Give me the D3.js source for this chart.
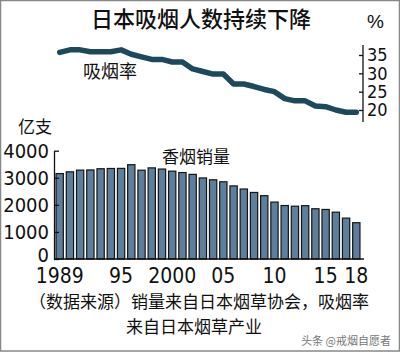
<!DOCTYPE html>
<html lang="zh">
<head>
<meta charset="UTF-8">
<title>日本吸烟人数持续下降</title>
<script src="https://d3js.org/d3.v7.min.js"></script>
<style>
    body { margin: 0; background: #fff; }
    svg { display: block; }
    .cjk { font-family: "Noto Sans CJK SC", sans-serif; fill: #111; }
    .num text { font-family: "Liberation Sans Narrow", "DejaVu Sans Condensed", sans-serif; fill: #111; }
</style>
</head>
<body>
<svg id="chart"></svg>
<script>
    // data
    const years = d3.range(1989, 2019);
    const sales = [3155, 3220, 3283, 3289, 3334, 3343, 3347, 3483, 3280, 3366,
                   3322, 3245, 3193, 3126, 2994, 2926, 2852, 2700, 2585, 2458,
                   2339, 2102, 1975, 1951, 1969, 1856, 1830, 1730, 1510, 1341];
    const smokingRate = [35.7, 36.4, 36.4, 35.9, 35.9, 35.9, 36.4, 35.2, 34.5, 33.8,
                         33.8, 33.1, 33.1, 31.2, 30.5, 29.8, 29.8, 27.1, 27.1, 26.4,
                         25.6, 25.0, 23.1, 22.5, 22.5, 21.1, 20.9, 20.0, 19.4, 19.4];
    const salesTicks = [0, 1000, 2000, 3000, 4000];
    const rateTicks = [20, 25, 30, 35];
    const yearTicks = [1989, 1995, 2000, 2005, 2010, 2015, 2018];

    const width = 400, height = 353;
    const svg = d3.select("#chart").attr("width", width).attr("height", height);

    // frame
    svg.append("rect")
        .attr("x", 0.5).attr("y", 0.5)
        .attr("width", width - 1).attr("height", height - 2.5)
        .attr("fill", "none").attr("stroke", "#888").attr("stroke-width", 1.5);

    const x = d3.scaleBand()
        .domain(years)
        .range([54, 362])
        .paddingInner(0.287)
        .paddingOuter(0.2);

    const yL = d3.scaleLinear().domain([0, 4000]).range([259, 150.7]);
    const yR = d3.scaleLinear().domain([20, 35]).range([110, 55]);

    // bars
    svg.append("g").selectAll("rect")
        .data(years)
        .join("rect")
        .attr("x", d => x(d))
        .attr("y", (d, i) => yL(sales[i]))
        .attr("width", x.bandwidth())
        .attr("height", (d, i) => yL(0) - yL(sales[i]))
        .attr("fill", "#5d7f9c")
        .attr("stroke", "#151515")
        .attr("stroke-width", 1.2);

    // left axis
    const leftAxis = svg.append("g")
        .attr("class", "num")
        .attr("transform", "translate(54,0)")
        .call(d3.axisLeft(yL).tickValues(salesTicks).tickFormat(d3.format("d"))
            .tickSize(-5).tickSizeOuter(0).tickPadding(5));
    leftAxis.selectAll("text").style("font-size", "20px");
    // the zero label sits on the baseline in the original
    leftAxis.selectAll("text").filter(d => d === 0).attr("dy", "0.1em");
    leftAxis.selectAll("line, path").attr("stroke", "#111").attr("stroke-width", 1.3);

    // baseline + bottom axis labels
    svg.append("line")
        .attr("x1", 54).attr("x2", 364)
        .attr("y1", yL(0)).attr("y2", yL(0))
        .attr("stroke", "#111").attr("stroke-width", 1.5);

    const bottomAxis = svg.append("g")
        .attr("class", "num")
        .attr("transform", `translate(0,${yL(0)})`)
        .call(d3.axisBottom(x).tickValues(yearTicks).tickSize(0).tickPadding(9)
            .tickFormat(d => (d === 1989 || d === 2000) ? String(d) : String(d).slice(2)));
    bottomAxis.select(".domain").remove();
    bottomAxis.selectAll("text").style("font-size", "21px");

    // right axis (smoking rate)
    const rightAxis = svg.append("g")
        .attr("class", "num")
        .attr("transform", "translate(363,0)")
        .call(d3.axisRight(yR).tickValues(rateTicks).tickSize(-4).tickSizeOuter(0).tickPadding(4));
    rightAxis.select(".domain").remove();
    rightAxis.append("line")
        .attr("y1", 45).attr("y2", 122)
        .attr("stroke", "#111").attr("stroke-width", 1.3);
    rightAxis.selectAll("text").style("font-size", "18px");
    rightAxis.selectAll(".tick line").attr("stroke", "#111").attr("stroke-width", 1.3);

    // smoking rate line
    const line = d3.line()
        .x((d, i) => x(years[i]) + x.bandwidth() / 2)
        .y(d => yR(d));
    svg.append("path")
        .datum(smokingRate)
        .attr("d", line)
        .attr("fill", "none")
        .attr("stroke", "#1c4a5c")
        .attr("stroke-width", 5.5)
        .attr("stroke-linejoin", "round")
        .attr("stroke-linecap", "round");

    // texts
    svg.append("text").attr("class", "cjk")
        .attr("x", 201).attr("y", 27)
        .attr("text-anchor", "middle")
        .style("font-size", "22px").style("font-weight", 500)
        .text("日本吸烟人数持续下降");
    svg.append("text").attr("class", "cjk")
        .attr("x", 367).attr("y", 28)
        .style("font-family", "Liberation Sans, sans-serif")
        .style("font-size", "19px")
        .text("%");
    svg.append("text").attr("class", "cjk")
        .attr("x", 83).attr("y", 78)
        .style("font-size", "18px")
        .text("吸烟率");
    svg.append("text").attr("class", "cjk")
        .attr("x", 18).attr("y", 133)
        .style("font-size", "17px")
        .text("亿支");
    svg.append("text").attr("class", "cjk")
        .attr("x", 162).attr("y", 163)
        .style("font-size", "17px")
        .text("香烟销量");
    svg.append("text").attr("class", "cjk")
        .attr("x", 199).attr("y", 308)
        .attr("text-anchor", "middle")
        .style("font-size", "17px")
        .text("（数据来源）销量来自日本烟草协会，吸烟率");
    svg.append("text").attr("class", "cjk")
        .attr("x", 194).attr("y", 333)
        .attr("text-anchor", "middle")
        .style("font-size", "17px")
        .text("来自日本烟草产业");
    svg.append("text").attr("class", "cjk")
        .attr("x", 391).attr("y", 345)
        .attr("text-anchor", "end")
        .style("font-size", "11px").style("fill", "#777")
        .text("头条 @戒烟自愿者");
</script>
</body>
</html>
